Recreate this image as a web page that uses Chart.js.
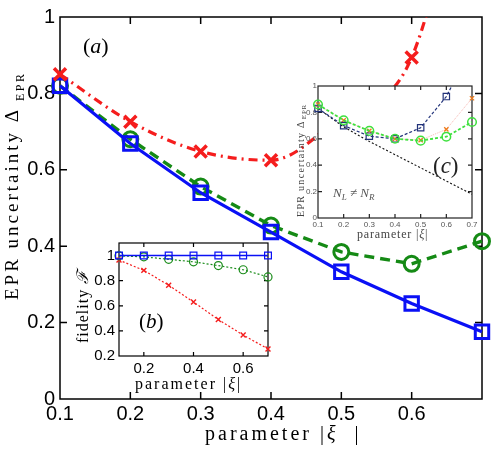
<!DOCTYPE html>
<html>
<head>
<meta charset="utf-8">
<script src="https://cdn.jsdelivr.net/npm/chart.js@4"></script>
<style>
  html, body { margin: 0; padding: 0; background: #fff; }
  #wrap { position: relative; width: 495px; height: 450px; }
  canvas { position: absolute; }
</style>
</head>
<body>
<div id="wrap">
  <canvas id="main" width="495" height="450" style="left:0;top:0"></canvas>
  <canvas id="insetB" width="215" height="165" style="left:60px;top:230px"></canvas>
  <canvas id="insetC" width="200" height="165" style="left:290px;top:80px"></canvas>
</div>
<script>
// parameter |xi|
const xi = [0.1, 0.2, 0.3, 0.4, 0.5, 0.6, 0.7];

// (a) EPR uncertainty
const mainRed = [0.85, 0.726, 0.648, 0.625, 0.74, 0.894, 1.6];
const mainBlue = [0.82, 0.669, 0.54, 0.437, 0.333, 0.25, 0.176];
const mainGreen = [0.82, 0.68, 0.556, 0.454, 0.385, 0.354, 0.413];

// (b) fidelity
const fidBlue = [1, 1, 1, 1, 1, 1, 1];
const fidGreen = [0.998, 0.99, 0.97, 0.95, 0.92, 0.887, 0.83];
const fidRed = [0.964, 0.882, 0.764, 0.63, 0.49, 0.367, 0.256];

// (c) N_L != N_R
const cBlue = [0.83, 0.70, 0.62, 0.60, 0.684, 0.92, 1.3];
const cGreen = [0.86, 0.74, 0.66, 0.60, 0.586, 0.616, 0.727];
const cOrange = [0.86, 0.74, 0.66, 0.60, 0.59, 0.672, 0.907];
const cBlack = [0.83, 0.69, 0.58, 0.48, 0.38, 0.28, 0.18];

// tick values
const mainXTicks = [0.1, 0.2, 0.3, 0.4, 0.5, 0.6, 0.7];
const mainYTicks = [0, 0.2, 0.4, 0.6, 0.8, 1];
const bXTicks = [0.2, 0.4, 0.6];
const bYTicks = [0.2, 0.4, 0.6, 0.8, 1];
const cXTicks = [0.1, 0.2, 0.3, 0.4, 0.5, 0.6, 0.7];
const cYTicks = [0, 0.2, 0.4, 0.6, 0.8, 1];

const pts = arr => xi.map((x, i) => ({ x: x, y: arr[i] }));
const fmt = v => String(Math.round(v * 100) / 100);

const SERIF = '"Liberation Serif", "DejaVu Serif", serif';
const SANS = '"Liberation Sans", Arial, sans-serif';

function drawParts(ctx, item) {
  ctx.save();
  ctx.translate(item.x, item.y);
  if (item.rot) ctx.rotate(item.rot);
  ctx.fillStyle = item.color || '#000';
  ctx.textBaseline = 'alphabetic';
  ctx.textAlign = 'left';
  let cx = 0;
  for (const p of item.parts) {
    ctx.font = p.font;
    ctx.letterSpacing = (p.ls || 0) + 'px';
    cx += p.pre || 0;
    ctx.fillText(p.t, cx, p.dy || 0);
    cx += ctx.measureText(p.t).width;
  }
  ctx.restore();
}

// white plot box, frame, inward ticks and free text
const deco = {
  id: 'deco',
  beforeDatasetsDraw(chart, args, opts) {
    const ctx = chart.ctx, a = chart.chartArea;
    const xs = chart.scales.x, ys = chart.scales.y;
    ctx.save();
    if (opts.fill) {
      ctx.fillStyle = '#fff';
      ctx.fillRect(a.left, a.top, a.right - a.left, a.bottom - a.top);
    }
    ctx.strokeStyle = opts.frameColor || '#000';
    ctx.lineWidth = opts.frameWidth || 1;
    ctx.strokeRect(a.left, a.top, a.right - a.left, a.bottom - a.top);
    const L = opts.tick || 5;
    ctx.beginPath();
    xs.ticks.forEach(t => {
      if (t.value <= xs.min + 1e-9 || t.value >= xs.max - 1e-9) return;
      const p = xs.getPixelForValue(t.value);
      ctx.moveTo(p, a.bottom); ctx.lineTo(p, a.bottom - L);
      ctx.moveTo(p, a.top); ctx.lineTo(p, a.top + L);
    });
    ys.ticks.forEach(t => {
      if (t.value <= ys.min + 1e-9 || t.value >= ys.max - 1e-9) return;
      const p = ys.getPixelForValue(t.value);
      ctx.moveTo(a.left, p); ctx.lineTo(a.left + L, p);
      ctx.moveTo(a.right, p); ctx.lineTo(a.right - L, p);
    });
    ctx.stroke();
    ctx.restore();
  },
  afterDraw(chart, args, opts) {
    (opts.texts || []).forEach(item => drawParts(chart.ctx, item));
  }
};
Chart.register(deco);

function baseOptions(pad, yWidth, xHeight, xVals, yVals, xTicks, yTicks, x, y) {
  return {
    responsive: false,
    animation: false,
    events: [],
    layout: { padding: pad },
    plugins: { legend: { display: false }, tooltip: { enabled: false } },
    scales: {
      x: Object.assign({
        type: 'linear',
        grid: { display: false, drawTicks: false },
        border: { display: false },
        ticks: Object.assign({ autoSkip: false, maxRotation: 0, callback: fmt }, xTicks),
        afterBuildTicks: s => { s.ticks = xVals.map(v => ({ value: v })); },
        afterFit: s => { s.height = xHeight; }
      }, x),
      y: Object.assign({
        type: 'linear',
        grid: { display: false, drawTicks: false },
        border: { display: false },
        ticks: Object.assign({ autoSkip: false, callback: fmt }, yTicks),
        afterBuildTicks: s => { s.ticks = yVals.map(v => ({ value: v })); },
        afterFit: s => { s.width = yWidth; }
      }, y)
    }
  };
}

// ---------- main chart (a) ----------
const mainOpts = baseOptions(
  { left: 0, top: 12, right: 13, bottom: 0 }, 60, 51, mainXTicks, mainYTicks,
  { padding: 3, color: '#000', font: { family: SANS, size: 20 },
    callback: v => (Math.abs(v - 0.7) < 1e-9 ? '' : fmt(v)) },
  { padding: 5, color: '#000', font: { family: SANS, size: 20 } },
  { min: 0.1, max: 0.7 }, { min: 0, max: 1 });
mainOpts.plugins.deco = {
  frameWidth: 1.5, tick: 7,
  texts: [
    { x: 18, y: 300, rot: -Math.PI / 2, parts: [
      { t: 'EPR uncertainty Δ', font: '19px ' + SERIF, ls: 3 },
      { t: 'EPR', font: '12px ' + SERIF, ls: 2.5, dy: 6, pre: 6 }] },
    { x: 205, y: 440, parts: [
      { t: 'parameter |', font: '20px ' + SERIF, ls: 3 },
      { t: 'ξ', font: 'italic 20px ' + SERIF, ls: 3 },
      { t: '  |', font: '20px ' + SERIF, ls: 3 }] },
    { x: 83, y: 53, parts: [
      { t: '(', font: '22px ' + SERIF },
      { t: 'a', font: 'italic 22px ' + SERIF },
      { t: ')', font: '22px ' + SERIF }] }
  ]
};

new Chart(document.getElementById('main'), {
  type: 'line',
  data: {
    datasets: [
      {
        label: 'red', data: pts(mainRed), order: 0,
        borderColor: '#f51d1d', borderWidth: 3.2, borderDash: [9, 5, 2, 5],
        cubicInterpolationMode: 'monotone',
        pointStyle: 'crossRot', pointRadius: 8.5, pointBorderWidth: 3.5,
        pointBorderColor: '#f51d1d', pointBackgroundColor: 'rgba(0,0,0,0)',
        clip: { left: 12, right: 12, top: 0, bottom: 12 }
      },
      {
        label: 'blue', data: pts(mainBlue), order: 1,
        borderColor: '#0a10f5', borderWidth: 3.2, tension: 0,
        pointStyle: 'rect', pointRadius: 9.5, pointBorderWidth: 3,
        pointBorderColor: '#0a10f5', pointBackgroundColor: 'rgba(0,0,0,0)',
        clip: false
      },
      {
        label: 'green', data: pts(mainGreen), order: 2,
        borderColor: '#158a15', borderWidth: 3.4, borderDash: [10, 6], tension: 0,
        pointStyle: 'circle', pointRadius: 7.5, pointBorderWidth: 3,
        pointBorderColor: '#158a15', pointBackgroundColor: 'rgba(0,0,0,0)',
        clip: false
      }
    ]
  },
  options: mainOpts
});

// ---------- inset (b) fidelity ----------
const bOpts = baseOptions(
  { left: 0, top: 9, right: 7, bottom: 0 }, 59, 39, bXTicks, bYTicks,
  { padding: 4, color: '#000', font: { family: SANS, size: 15 } },
  { padding: 4, color: '#000', font: { family: SANS, size: 15 } },
  { min: 0.1, max: 0.7 }, { min: 0.2, max: 1.1 });
bOpts.plugins.deco = {
  fill: true, frameWidth: 1.2, tick: 4,
  texts: [
    { x: 28, y: 113, rot: -Math.PI / 2, parts: [
      { t: 'fidelity ', font: '16px ' + SERIF, ls: 1 },
      { t: 'ℱ', font: 'italic 16px ' + SERIF }] },
    { x: 75, y: 159, parts: [
      { t: 'parameter |', font: '16px ' + SERIF, ls: 2 },
      { t: 'ξ', font: 'italic 16px ' + SERIF, ls: 2 },
      { t: '|', font: '16px ' + SERIF }] },
    { x: 79, y: 98, parts: [
      { t: '(', font: '21px ' + SERIF },
      { t: 'b', font: 'italic 21px ' + SERIF },
      { t: ')', font: '21px ' + SERIF }] }
  ]
};

new Chart(document.getElementById('insetB'), {
  type: 'line',
  data: {
    datasets: [
      {
        label: 'blue', data: pts(fidBlue), order: 0,
        borderColor: '#0a10f5', borderWidth: 1.4,
        pointStyle: 'rect', pointRadius: 4.8, pointBorderWidth: 1.2,
        pointBorderColor: '#0a10f5', pointBackgroundColor: 'rgba(0,0,0,0)', clip: false
      },
      {
        label: 'green', data: pts(fidGreen), order: 1,
        borderColor: '#1a8c1a', borderWidth: 1.2, borderDash: [2, 2],
        pointStyle: 'circle', pointRadius: 4, pointBorderWidth: 1.2,
        pointBorderColor: '#1a8c1a', pointBackgroundColor: 'rgba(0,0,0,0)', clip: false
      },
      {
        label: 'red', data: pts(fidRed), order: 2,
        borderColor: '#f51d1d', borderWidth: 1.2, borderDash: [2, 2],
        pointStyle: 'crossRot', pointRadius: 3.5, pointBorderWidth: 1.4,
        pointBorderColor: '#f51d1d', pointBackgroundColor: 'rgba(0,0,0,0)', clip: false
      }
    ]
  },
  options: bOpts
});

// ---------- inset (c) N_L != N_R ----------
const cOpts = baseOptions(
  { left: 0, top: 6, right: 18, bottom: 0 }, 28, 27, cXTicks, cYTicks,
  { padding: 2, color: '#555', font: { family: SANS, size: 8 }, callback: v => v.toFixed(1) },
  { padding: 1, color: '#555', font: { family: SANS, size: 8 } },
  { min: 0.1, max: 0.7 }, { min: 0, max: 1 });
cOpts.plugins.deco = {
  fill: true, frameWidth: 1.2, frameColor: '#222', tick: 4,
  texts: [
    { x: 14, y: 137, rot: -Math.PI / 2, color: '#444', parts: [
      { t: 'EPR uncertainty Δ', font: '10px ' + SERIF, ls: 1.3 },
      { t: 'EPR', font: '7px ' + SERIF, ls: 0.8, dy: 2, pre: 1 }] },
    { x: 67, y: 158, color: '#444', parts: [
      { t: 'parameter |', font: '12px ' + SERIF, ls: 0.8 },
      { t: 'ξ', font: 'italic 12px ' + SERIF, ls: 0.8 },
      { t: '|', font: '12px ' + SERIF }] },
    { x: 143, y: 93, color: '#222', parts: [
      { t: '(', font: '23px ' + SERIF },
      { t: 'c', font: 'italic 23px ' + SERIF },
      { t: ')', font: '23px ' + SERIF }] },
    { x: 43, y: 117, color: '#555', parts: [
      { t: 'N', font: 'italic 13px ' + SERIF },
      { t: 'L', font: 'italic 9px ' + SERIF, dy: 3 },
      { t: ' ≠ ', font: '13px ' + SERIF },
      { t: 'N', font: 'italic 13px ' + SERIF },
      { t: 'R', font: 'italic 9px ' + SERIF, dy: 3 }] }
  ]
};

const cClip = { left: 8, right: 8, top: 0, bottom: 8 };
new Chart(document.getElementById('insetC'), {
  type: 'line',
  data: {
    datasets: [
      {
        label: 'green', data: pts(cGreen), order: 0,
        borderColor: '#3ee03e', borderWidth: 1.8, borderDash: [3, 2],
        pointStyle: 'circle', pointRadius: 4.3, pointBorderWidth: 1.5,
        pointBorderColor: '#3ee03e', pointBackgroundColor: 'rgba(0,0,0,0)', clip: cClip
      },
      {
        label: 'blue', data: pts(cBlue), order: 1,
        borderColor: '#22337a', borderWidth: 1.2, borderDash: [3, 2],
        pointStyle: 'rect', pointRadius: 4.5, pointBorderWidth: 1.2,
        pointBorderColor: '#22337a', pointBackgroundColor: 'rgba(0,0,0,0)', clip: cClip
      },
      {
        label: 'orange', data: pts(cOrange), order: 2,
        borderColor: '#f4a6a0', borderWidth: 0.8, borderDash: [1, 1],
        pointStyle: 'crossRot', pointRadius: 3, pointBorderWidth: 1.3,
        pointBorderColor: '#ee7a1a', pointBackgroundColor: 'rgba(0,0,0,0)', clip: cClip
      },
      {
        label: 'black', data: pts(cBlack), order: 3,
        borderColor: '#111', borderWidth: 1.1, borderDash: [2, 2],
        pointRadius: 0, clip: cClip
      }
    ]
  },
  options: cOpts
});
</script>
</body>
</html>
